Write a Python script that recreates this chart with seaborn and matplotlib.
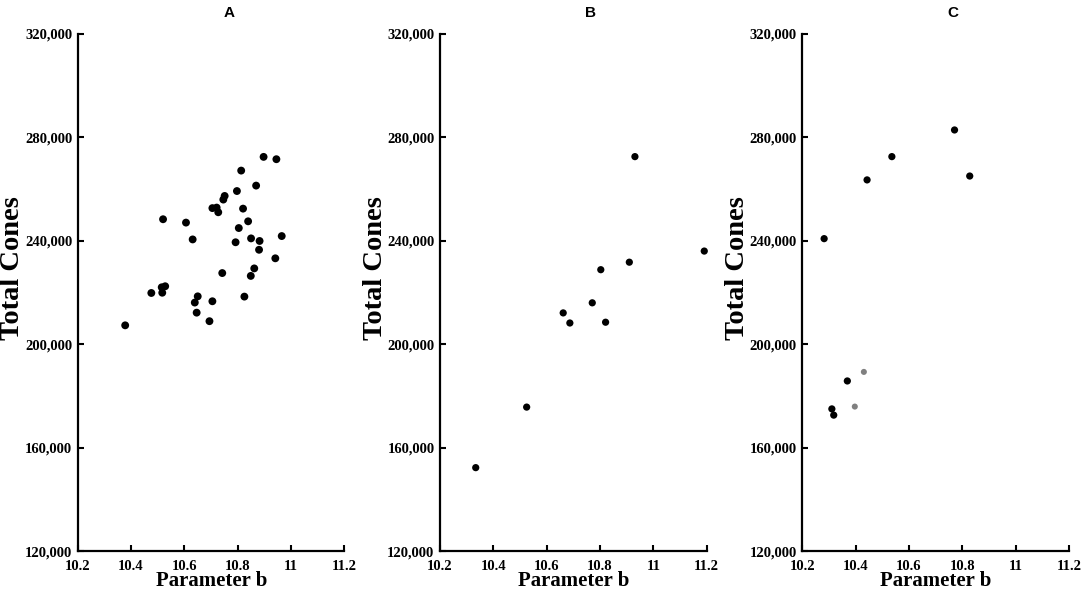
import pandas as pd
import matplotlib
matplotlib.use("Agg")
import matplotlib.pyplot as plt
import matplotlib.ticker as mticker
import seaborn as sns

# panel A
a_b = [10.378, 10.476, 10.517, 10.515, 10.528, 10.520, 10.606, 10.631, 10.646, 10.639,
       10.650, 10.694, 10.705, 10.705, 10.721, 10.727, 10.742, 10.746, 10.751, 10.792,
       10.797, 10.804, 10.813, 10.820, 10.825, 10.839, 10.850, 10.849, 10.862, 10.869,
       10.882, 10.880, 10.897, 10.945, 10.941, 10.965]
a_cones = [207400, 219900, 220000, 222100, 222500, 248400, 247100, 240600, 212300, 216200,
           218600, 209000, 216700, 252700, 252900, 251100, 227600, 256000, 257400, 239500,
           259300, 245000, 267200, 252500, 218500, 247600, 241000, 226500, 229400, 261400,
           240000, 236600, 272500, 271600, 233300, 241900]

# panel B
b_b = [10.334, 10.525, 10.662, 10.687, 10.771, 10.821, 10.803, 10.910, 10.931, 11.191]
b_cones = [152400, 175800, 212200, 208300, 216100, 208600, 228900, 231800, 272600, 236100]

# panel C (two grey points)
c_b = [10.282, 10.311, 10.318, 10.369, 10.443, 10.536, 10.771, 10.828]
c_cones = [240900, 175100, 172700, 185900, 263600, 272600, 282900, 265100]
c_grey_b = [10.431, 10.397]
c_grey_cones = [189400, 176000]

titles = ["A", "B", "C"]
x_ticks = [10.2, 10.4, 10.6, 10.8, 11, 11.2]
y_ticks = [120000, 160000, 200000, 240000, 280000, 320000]

sns.set_style("ticks")
plt.rcParams.update({"text.color": "black", "axes.labelcolor": "black",
                     "xtick.color": "black", "ytick.color": "black",
                     "axes.edgecolor": "black"})
serif = "Liberation Serif"

fig = plt.figure(figsize=(10.84, 5.96), dpi=100)
lefts = [0.0717, 0.4059, 0.7401]
axes = [fig.add_axes([l, 0.0747, 0.2460, 0.8683]) for l in lefts]

sns.scatterplot(x=a_b, y=a_cones, ax=axes[0], color="black", s=32, edgecolor="none", clip_on=False)
sns.scatterplot(x=b_b, y=b_cones, ax=axes[1], color="black", s=27, edgecolor="none", clip_on=False)
sns.scatterplot(x=c_b, y=c_cones, ax=axes[2], color="black", s=27, edgecolor="none", clip_on=False)
sns.scatterplot(x=c_grey_b, y=c_grey_cones, ax=axes[2], color="#808080", s=19,
                edgecolor="none", clip_on=False)

for ax, t in zip(axes, titles):
    ax.set_xlim(10.2, 11.2)
    ax.set_ylim(120000, 320000)
    ax.set_xticks(x_ticks)
    ax.set_xticklabels([f"{v:g}" for v in x_ticks])
    ax.set_yticks(y_ticks)
    ax.yaxis.set_major_formatter(mticker.StrMethodFormatter("{x:,.0f}"))
    for side in ["top", "right"]:
        ax.spines[side].set_visible(False)
    for side in ["left", "bottom"]:
        ax.spines[side].set_linewidth(1.6)
    ax.tick_params(axis="both", direction="in", length=4, width=1.5)
    ax.tick_params(axis="y", pad=4)
    ax.tick_params(axis="x", pad=6)
    for lab in ax.get_xticklabels() + ax.get_yticklabels():
        lab.set_fontfamily(serif)
        lab.set_fontweight("bold")
        lab.set_fontsize(10.5)
    ax.set_xlabel("Parameter b", fontfamily=serif, fontweight="bold", fontsize=15)
    ax.set_ylabel("Total Cones", fontfamily=serif, fontweight="bold", fontsize=20.5)
    ax.xaxis.set_label_coords(0.502, -0.038)
    ax.yaxis.set_label_coords(-0.196, 0.548)
    ax.text(0.566, 1.04, t, transform=ax.transAxes, ha="center", va="center",
            fontfamily="Liberation Sans", fontweight="bold", fontsize=11)

fig.savefig("out.png", dpi=100)
